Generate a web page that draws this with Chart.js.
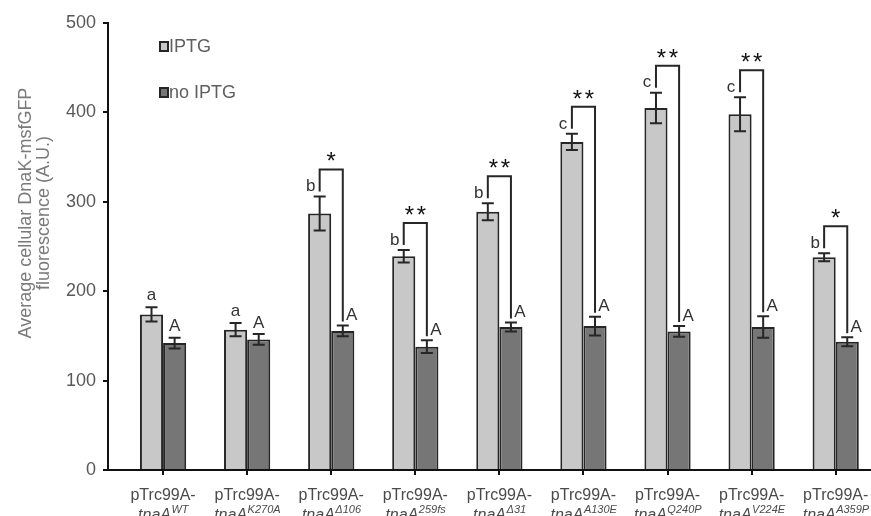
<!DOCTYPE html>
<html lang="en">
<head>
<meta charset="UTF-8" />
<title>DnaK-msfGFP fluorescence</title>
<script src="https://cdn.jsdelivr.net/npm/chart.js"></script>
<style>
  html, body { margin: 0; padding: 0; background: #fff; }
</style>
</head>
<body>
<canvas id="chart" width="871" height="516"></canvas>
<script>
// values (A.U.)
const strainPrefix = "pTrc99A-";
const strainSuffixes = ["WT", "K270A", "\u0394106", "259fs", "\u039431", "A130E", "Q240P", "V224E", "A359P"];
const iptgValues = [174, 157, 287, 239, 289, 367, 405, 398, 238];
const iptgErrors = [8, 7.5, 19, 7, 9.5, 9, 17, 19, 4.5];
const noIptgValues = [142, 146, 155.5, 138, 160, 161, 155, 160, 143.5];
const noIptgErrors = [6, 6, 6, 7, 5, 10.5, 6, 12, 5];
const iptgLetters = ["a", "a", "b", "b", "b", "c", "c", "c", "b"];
const noIptgLetters = ["A", "A", "A", "A", "A", "A", "A", "A", "A"];
const significance = ["", "", "*", "**", "**", "**", "**", "**", "*"];

const lightGrey = "#c8c8c8";
const darkGrey = "#767676";
const edge = "#262626";
const FONT = "'Liberation Sans', Arial, sans-serif";

function points(values) {
  return values.map((v, i) => ({ x: i, y: v }));
}

const annotate = {
  id: "annotate",
  afterDatasetsDraw(chart) {
    const ctx = chart.ctx;
    const ys = chart.scales.y;
    const barsOn = chart.getDatasetMeta(0).data;
    const barsOff = chart.getDatasetMeta(1).data;
    ctx.save();
    ctx.strokeStyle = edge;
    ctx.lineWidth = 2;

    function errorBar(bx, v, e) {
      const top = ys.getPixelForValue(v + e);
      const bot = ys.getPixelForValue(v - e);
      ctx.beginPath();
      ctx.moveTo(bx, top); ctx.lineTo(bx, bot);
      ctx.moveTo(bx - 6, top); ctx.lineTo(bx + 6, top);
      ctx.moveTo(bx - 6, bot); ctx.lineTo(bx + 6, bot);
      ctx.stroke();
      return top;
    }

    for (let i = 0; i < strainSuffixes.length; i++) {
      const xOn = barsOn[i].x;
      const xOff = barsOff[i].x;
      const topOn = errorBar(xOn, iptgValues[i], iptgErrors[i]);
      const topOff = errorBar(xOff, noIptgValues[i], noIptgErrors[i]);

      ctx.fillStyle = "#333";
      ctx.font = "17px " + FONT;
      ctx.textBaseline = "middle";
      if (significance[i]) {
        const bracketTop = topOn - 27;
        ctx.beginPath();
        ctx.moveTo(xOn, topOn - 5);
        ctx.lineTo(xOn, bracketTop);
        ctx.lineTo(xOff, bracketTop);
        ctx.lineTo(xOff, topOff - 4);
        ctx.stroke();
        ctx.textAlign = "center";
        ctx.fillText(iptgLetters[i], xOn - 9, topOn - 10);
        ctx.fillText(noIptgLetters[i], xOff + 9, topOff - 10);

        ctx.fillStyle = "#111";
        ctx.font = "24px " + FONT;
        ctx.textBaseline = "alphabetic";
        const n = significance[i].length;
        const mid = (xOn + xOff) / 2;
        for (let k = 0; k < n; k++) {
          ctx.fillText("*", mid + (k - (n - 1) / 2) * 12, bracketTop);
        }
      } else {
        ctx.textAlign = "center";
        ctx.fillText(iptgLetters[i], xOn, topOn - 12);
        ctx.fillText(noIptgLetters[i], xOff, topOff - 11);
      }
    }
    ctx.restore();
  },
  afterDraw(chart) {
    const ctx = chart.ctx;
    const xs = chart.scales.x;
    ctx.save();

    // category labels, second line italic with superscript
    ctx.fillStyle = "#4a4a4a";
    ctx.textBaseline = "alphabetic";
    for (let i = 0; i < strainSuffixes.length; i++) {
      const cx = xs.getPixelForValue(i);
      ctx.font = "16px " + FONT;
      ctx.textAlign = "center";
      ctx.fillText(strainPrefix, cx, 500);
      ctx.font = "italic 16px " + FONT;
      const w1 = ctx.measureText("tnaA").width;
      ctx.font = "italic 11px " + FONT;
      const w2 = ctx.measureText(strainSuffixes[i]).width;
      const x0 = cx - (w1 + w2) / 2;
      ctx.textAlign = "left";
      ctx.font = "italic 16px " + FONT;
      ctx.fillText("tnaA", x0, 520);
      ctx.font = "italic 11px " + FONT;
      ctx.fillText(strainSuffixes[i], x0 + w1 + 0.5, 513);
    }

    // y axis title
    ctx.fillStyle = "#7a7a7a";
    ctx.font = "18px " + FONT;
    ctx.textAlign = "center";
    ctx.textBaseline = "middle";
    const titleLines = ["Average cellular DnaK-msfGFP", "fluorescence (A.U.)"];
    const titleX = [26, 44];
    titleLines.forEach((t, k) => {
      ctx.save();
      ctx.translate(titleX[k], 213);
      ctx.rotate(-Math.PI / 2);
      ctx.fillText(t, 0, 0);
      ctx.restore();
    });

    // legend
    ctx.font = "18px " + FONT;
    ctx.textAlign = "left";
    chart.data.datasets.forEach((ds, k) => {
      const ly = 47 + k * 46;
      ctx.fillStyle = ds.backgroundColor;
      ctx.fillRect(160, ly - 5, 8, 9);
      ctx.strokeStyle = edge;
      ctx.lineWidth = 2;
      ctx.strokeRect(160, ly - 5, 8, 9);
      ctx.fillStyle = "#5f5f5f";
      ctx.fillText(ds.label, 169, ly);
    });
    ctx.restore();
  }
};

new Chart(document.getElementById("chart"), {
  type: "bar",
  data: {
    datasets: [
      {
        label: "IPTG",
        data: points(iptgValues),
        backgroundColor: lightGrey,
        borderColor: edge,
        borderWidth: 2,
        borderSkipped: "bottom",
        categoryPercentage: 0.55,
        barPercentage: 1
      },
      {
        label: "no IPTG",
        data: points(noIptgValues),
        backgroundColor: darkGrey,
        borderColor: edge,
        borderWidth: 2,
        borderSkipped: "bottom",
        categoryPercentage: 0.55,
        barPercentage: 1
      }
    ]
  },
  options: {
    responsive: false,
    animation: false,
    layout: { padding: { top: 23, left: 0, right: 0, bottom: 0 } },
    plugins: {
      legend: { display: false },
      tooltip: { enabled: false }
    },
    scales: {
      x: {
        type: "linear",
        offset: false,
        min: -0.655,
        max: 8.42,
        afterFit(scale) { scale.height = 46; },
        ticks: { stepSize: 1, includeBounds: false, display: false },
        grid: { drawOnChartArea: false, offset: false, tickLength: 5, color: "#111", lineWidth: 2 },
        border: { color: "#111", width: 2 }
      },
      y: {
        min: 0,
        max: 500,
        afterFit(scale) { scale.width = 108; },
        ticks: {
          stepSize: 100,
          padding: 7,
          color: "#595959",
          font: { family: FONT, size: 18 }
        },
        grid: { drawOnChartArea: false, tickLength: 5, color: "#111", lineWidth: 2 },
        border: { color: "#111", width: 2 }
      }
    }
  },
  plugins: [annotate]
});
</script>
</body>
</html>
